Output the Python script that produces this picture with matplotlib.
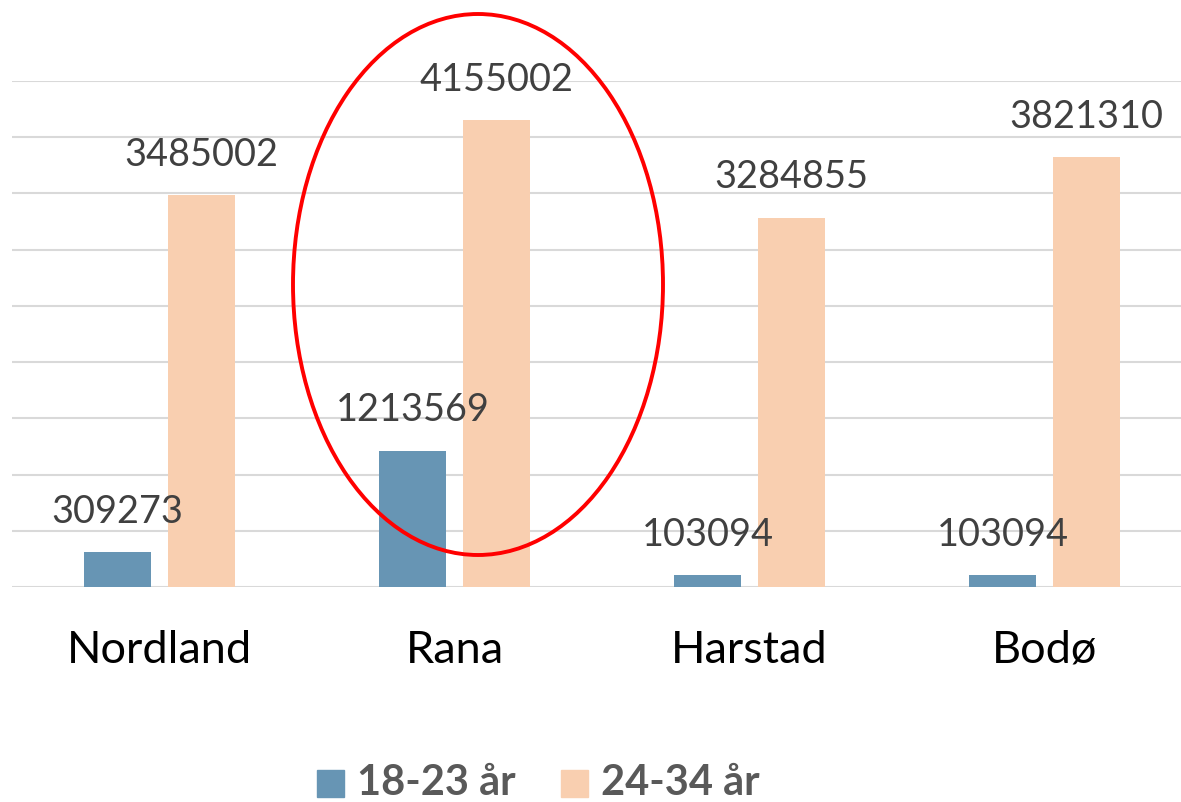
import matplotlib
matplotlib.use("Agg")
import matplotlib.pyplot as plt
from matplotlib.patches import Ellipse, Rectangle
import numpy as np

categories = ["Nordland", "Rana", "Harstad", "Bodø"]
series_names = ["18-23 år", "24-34 år"]
values_18_23 = [309273, 1213569, 103094, 103094]
values_24_34 = [3485002, 4155002, 3284855, 3821310]

blue = "#6795B4"
peach = "#F9CFB0"
grid_c = "#D9D9D9"
lbl_c = "#404040"

W, H = 1181, 802
fig = plt.figure(figsize=(W / 100, H / 100), dpi=100)
ax = fig.add_axes([12 / W, (H - 587) / H, 1180 / W, (587 - 81) / H])

x = np.arange(len(categories))
bw = 0.23
off = 0.1424
b1 = ax.bar(x - off, values_18_23, bw, color=blue, zorder=3)
b2 = ax.bar(x + off, values_24_34, bw, color=peach, zorder=3)

ax.set_xlim(-0.5, 3.5)
ax.set_ylim(0, 4500000)
ax.set_yticks(np.arange(0, 4500001, 500000))
ax.yaxis.grid(True, color=grid_c, linewidth=1.5)
ax.set_axisbelow(True)
ax.tick_params(left=False, bottom=False, labelleft=False, labelbottom=False)
for s in ax.spines.values():
    s.set_visible(False)

font = "Lato"
for bars, vals in ((b1, values_18_23), (b2, values_24_34)):
    for r, v in zip(bars, vals):
        ax.annotate(str(v), (r.get_x() + r.get_width() / 2, v), xytext=(0, 16),
                    textcoords="offset points", ha="center", va="bottom",
                    fontsize=27.3, color=lbl_c, family=font, annotation_clip=False)

for xi, c in zip(x, categories):
    ax.text(xi, -0.125, c, transform=ax.get_xaxis_transform(), ha="center",
            va="center", fontsize=32.5, color="black", family=font)

# legend
legend_y = 1 - 783 / H
sq = 27
for sx, tx, col, name in ((317, 357, blue, series_names[0]), (561, 601, peach, series_names[1])):
    fig.patches.append(Rectangle((sx / W, legend_y - sq / 2 / H), sq / W, sq / H,
                                 transform=fig.transFigure, color=col))
    fig.text(tx / W, legend_y, name, ha="left", va="center", fontsize=30,
             fontweight="bold", color="#595959", family=font)

ell = Ellipse((478 / W, 1 - 284.5 / H), 370 / W, 541 / H, transform=fig.transFigure,
              fill=False, edgecolor="#FF0000", linewidth=2.8, zorder=10)
fig.patches.append(ell)

fig.savefig("out.png", dpi=100, facecolor="white")
